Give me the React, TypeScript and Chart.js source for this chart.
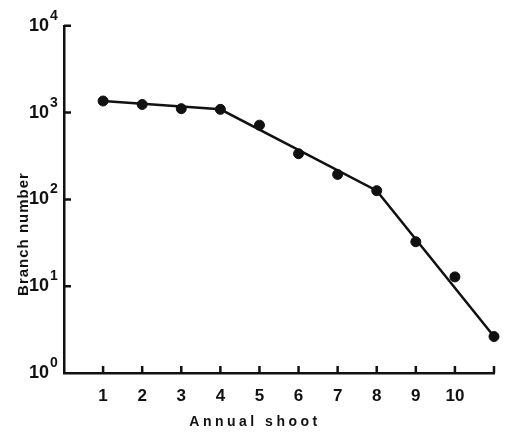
import React, { useEffect, useRef } from 'react';
import { Chart, registerables } from 'chart.js';

Chart.register(...registerables);

// Data
const shoots = [1, 2, 3, 4, 5, 6, 7, 8, 9, 10, 11];
const branchNumbers = [1360, 1240, 1110, 1090, 717, 336, 194, 126, 32.5, 12.8, 2.63];
const fitShoots = [1, 4, 8, 11];
const fitValues = [1360, 1090, 126, 2.63];
const xTickLabels = ['', '1', '2', '3', '4', '5', '6', '7', '8', '9', '10', ''];
const yTickValues = [1, 10, 100, 1000, 10000];
const yTickBase = '10';
const yTickExponents = ['0', '1', '2', '3', '4'];
const xTitle = 'Annual shoot';
const yTitle = 'Branch number';

const FONT = "'Liberation Sans', Arial, sans-serif";

const decorations = {
  id: 'decorations',
  afterDraw(chart: any) {
    const { ctx, chartArea, scales } = chart;
    ctx.save();
    ctx.strokeStyle = '#111';
    ctx.lineWidth = 2.5;
    ctx.beginPath();
    yTickValues.slice(1).forEach((v) => {
      const y = scales.y.getPixelForValue(v);
      ctx.moveTo(chartArea.left, y);
      ctx.lineTo(chartArea.left + 7, y);
    });
    shoots.forEach((v) => {
      const x = scales.x.getPixelForValue(v);
      ctx.moveTo(x, chartArea.bottom);
      ctx.lineTo(x, chartArea.bottom - 7);
    });
    ctx.stroke();

    // exponents of the y tick labels (superscripts)
    ctx.fillStyle = '#111';
    ctx.font = `bold 14px ${FONT}`;
    ctx.textAlign = 'left';
    ctx.textBaseline = 'alphabetic';
    yTickValues.forEach((v, i) => {
      const y = scales.y.getPixelForValue(v);
      ctx.fillText(yTickExponents[i], chartArea.left - 14, y - 6);
    });

    // axis titles
    ctx.font = `bold 14px ${FONT}`;
    ctx.textAlign = 'center';
    ctx.textBaseline = 'middle';
    (ctx as any).letterSpacing = '3.5px';
    ctx.fillText(xTitle, 255, 422);
    ctx.translate(24, 234);
    ctx.rotate(-Math.PI / 2);
    (ctx as any).letterSpacing = '1px';
    ctx.font = `bold 15px ${FONT}`;
    ctx.fillText(yTitle, 0, 0);
    ctx.restore();
  },
};

export default function App() {
  const ref = useRef<HTMLCanvasElement | null>(null);
  useEffect(() => {
    if (!ref.current) return;
    const chart = new Chart(ref.current, {
      type: 'scatter',
      data: {
        datasets: [
          {
            label: 'fit',
            data: fitShoots.map((x, i) => ({ x, y: fitValues[i] })),
            showLine: true,
            borderColor: '#111',
            borderWidth: 2.5,
            pointRadius: 0,
            clip: false as any,
          },
          {
            label: 'Branch number',
            data: shoots.map((x, i) => ({ x, y: branchNumbers[i] })),
            showLine: false,
            backgroundColor: '#111',
            borderColor: '#111',
            pointRadius: 5,
            clip: false as any,
          },
        ],
      },
      options: {
        animation: false,
        responsive: false,
        layout: { padding: { top: 20, right: 7, left: 0, bottom: 0 } },
        plugins: { legend: { display: false }, tooltip: { enabled: false } },
        scales: {
          x: {
            type: 'linear',
            min: 0,
            max: 11,
            afterBuildTicks: (scale: any) => {
              scale.ticks = xTickLabels.map((_, i) => ({ value: i }));
            },
            afterFit: (scale: any) => {
              scale.height = 61;
            },
            grid: { display: false, drawTicks: false },
            border: { display: true, color: '#111', width: 2.5 },
            ticks: {
              autoSkip: false,
              maxRotation: 0,
              padding: 13,
              color: '#111',
              font: { family: FONT, size: 17, weight: 'bold' },
              callback: (v: any) => xTickLabels[Math.round(Number(v))] ?? '',
            },
          },
          y: {
            type: 'logarithmic',
            min: 1,
            max: 10000,
            afterBuildTicks: (scale: any) => {
              scale.ticks = yTickValues.map((v) => ({ value: v }));
            },
            afterFit: (scale: any) => {
              scale.width = 64;
            },
            grid: { display: false, drawTicks: false },
            border: { display: true, color: '#111', width: 2.5 },
            ticks: {
              autoSkip: false,
              padding: 15,
              color: '#111',
              font: { family: FONT, size: 18, weight: 'bold' },
              callback: (v: any) => (yTickValues.indexOf(Number(v)) >= 0 ? yTickBase : ''),
            },
          },
        },
      },
      plugins: [decorations],
    });
    return () => chart.destroy();
  }, []);
  return (
    <div style={{ position: 'fixed', left: 0, top: 0, width: 507, height: 434, background: '#fff' }}>
      <canvas ref={ref} width={507} height={434} />
    </div>
  );
}
